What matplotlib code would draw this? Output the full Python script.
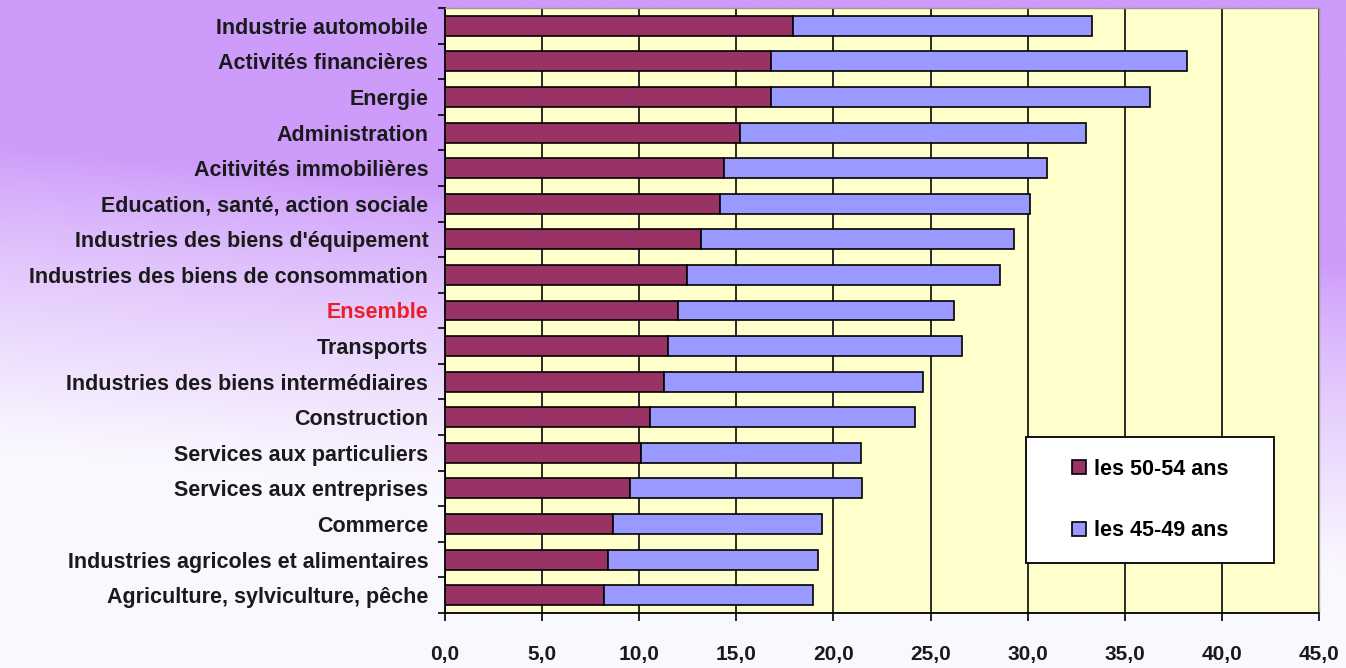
import numpy as np
import matplotlib
matplotlib.use("Agg")
from matplotlib import pyplot as plt
from matplotlib.patches import Rectangle

# secteurs, du haut vers le bas
secteurs = [
    "Industrie automobile",
    "Activités financières",
    "Energie",
    "Administration",
    "Acitivités immobilières",
    "Education, santé, action sociale",
    "Industries des biens d'équipement",
    "Industries des biens de consommation",
    "Ensemble",
    "Transports",
    "Industries des biens intermédiaires",
    "Construction",
    "Services aux particuliers",
    "Services aux entreprises",
    "Commerce",
    "Industries agricoles et alimentaires",
    "Agriculture, sylviculture, pêche",
]
# part des 50-54 ans (segment gauche)
ans_50_54 = [17.9, 16.8, 16.8, 15.2, 14.35, 14.15, 13.2, 12.45, 12.0, 11.5,
             11.25, 10.55, 10.1, 9.5, 8.65, 8.4, 8.2]
# part des 45-49 ans (segment empile a droite)
ans_45_49 = [15.4, 21.4, 19.5, 17.8, 16.65, 15.95, 16.1, 16.15, 14.2, 15.1,
             13.35, 13.65, 11.3, 11.95, 10.75, 10.8, 10.75]
graduations = [0, 5, 10, 15, 20, 25, 30, 35, 40, 45]
etiquettes_x = ["0,0", "5,0", "10,0", "15,0", "20,0", "25,0", "30,0", "35,0", "40,0", "45,0"]

plt.rcParams["font.family"] = ["Liberation Sans", "DejaVu Sans"]
fig = plt.figure(figsize=(13.46, 6.68), dpi=100)

# fond degrade violet -> blanc
fond = fig.add_axes([0, 0, 1, 1], zorder=-10)
yy, xx = np.mgrid[0:1:300j, 0:1:400j]
t = np.clip((yy - 0.22 - 0.18 * xx) / 0.45, 0, 1) ** 0.8
violet = np.array([205, 155, 250]) / 255
blanc = np.array([250, 248, 255]) / 255
img = violet * (1 - t[..., None]) + blanc * t[..., None]
fond.imshow(img, aspect="auto", extent=[0, 1, 0, 1], origin="upper")
fond.axis("off")

ax = fig.add_axes([445 / 1346, 1 - 613 / 668, 874 / 1346, 605 / 668])
ax.set_facecolor("#FFFFCC")
pos = np.arange(len(secteurs))
ax.barh(pos, ans_50_54, height=0.56, color="#993366", edgecolor="black",
        linewidth=1.2, label="les 50-54 ans", zorder=3)
ax.barh(pos, ans_45_49, left=ans_50_54, height=0.56, color="#9999FF",
        edgecolor="black", linewidth=1.2, label="les 45-49 ans", zorder=3)

ax.set_xlim(0, 45)
ax.set_ylim(len(secteurs) - 0.5, -0.5)
ax.set_axisbelow(True)
ax.grid(axis="x", color="#1a1a1a", linewidth=1.3)

ax.set_xticks(graduations)
ax.set_xticklabels(etiquettes_x, fontsize=15, fontweight="bold", color="#1a1a1a")
ax.set_yticks(pos)
ax.set_yticklabels(secteurs, fontsize=15.5, fontweight="bold", color="#1a1a1a")
ax.set_yticks(np.arange(-0.5, len(secteurs)), minor=True)
ax.tick_params(axis="y", which="major", length=0, pad=12)
ax.tick_params(axis="y", which="minor", length=5, width=1.2)
ax.tick_params(axis="x", length=6, width=1.2, pad=17)
ax.get_yticklabels()[secteurs.index("Ensemble")].set_color("#E8202A")

for cote in ["left", "bottom"]:
    ax.spines[cote].set_color("black")
    ax.spines[cote].set_linewidth(1.3)
for cote in ["top", "right"]:
    ax.spines[cote].set_color("#999999")
    ax.spines[cote].set_linewidth(1.0)

# cadre de la legende
cadre = Rectangle((0.665, 0.0826), 0.2837, 0.2083, transform=ax.transAxes,
                  facecolor="white", edgecolor="black", linewidth=1.3, zorder=4)
ax.add_patch(cadre)
ax.legend(loc="center", bbox_to_anchor=(0.665 + 0.2837 / 2, 0.0826 + 0.2083 / 2),
          frameon=False, prop={"weight": "bold", "size": 15.5}, handlelength=0.65,
          handleheight=0.65, labelspacing=1.9, handletextpad=0.35)

fig.savefig("out.png", dpi=100)
